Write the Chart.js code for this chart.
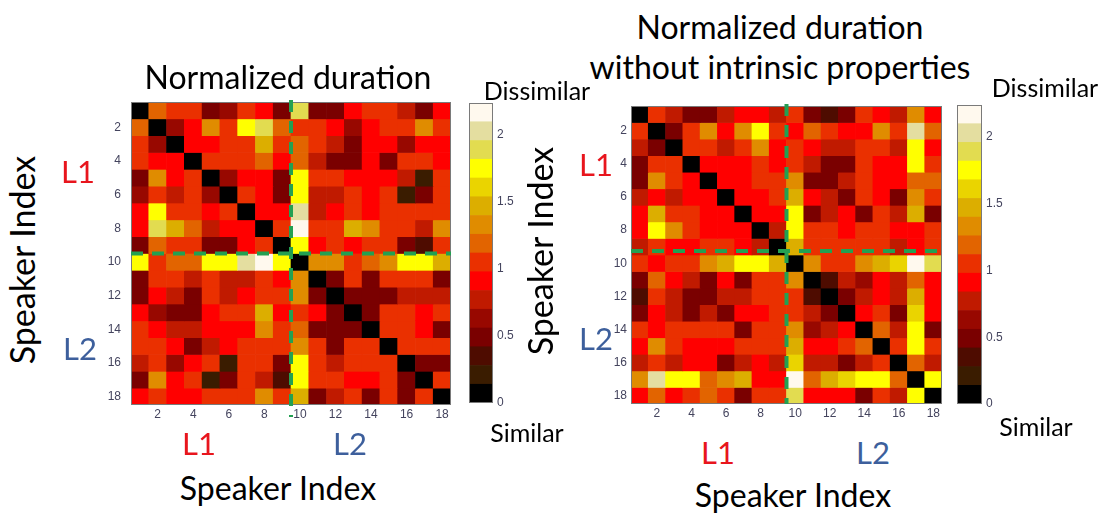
<!DOCTYPE html>
<html>
<head>
<meta charset="utf-8">
<script src="https://cdn.jsdelivr.net/npm/chart.js@4"></script>
<style>
body { margin: 0; background: #fff; font-family: Lato, 'Open Sans', sans-serif; }
#page { position: relative; width: 1103px; height: 514px; overflow: hidden; }
canvas, .lbl { position: absolute; }
.lbl { white-space: nowrap; line-height: 1; color: #000; transform: translate(-50%, -50%); }
.vert { transform: translate(-50%, -50%) rotate(-90deg); }
.red { color: #e8151d; }
.blue { color: #3d5f9c; }
</style>
</head>
<body>
<div id="page">
  <canvas id="heatA" width="356" height="335" style="left:95px;top:95px"></canvas>
  <canvas id="barA" width="52" height="315" style="left:469px;top:96px"></canvas>
  <canvas id="heatB" width="347" height="330" style="left:595px;top:99px"></canvas>
  <canvas id="barB" width="53" height="314" style="left:957px;top:98px"></canvas>

  <div class="lbl" style="left:288px;top:77px;font-size:32px">Normalized duration</div>
  <div class="lbl" style="left:780px;top:27px;font-size:32px">Normalized duration</div>
  <div class="lbl" style="left:780px;top:67px;font-size:32px">without intrinsic properties</div>

  <div class="lbl vert" style="left:22px;top:260px;font-size:34px">Speaker Index</div>
  <div class="lbl vert" style="left:540px;top:251px;font-size:34px">Speaker Index</div>
  <div class="lbl" style="left:278px;top:488px;font-size:32px">Speaker Index</div>
  <div class="lbl" style="left:793px;top:495px;font-size:32px">Speaker Index</div>

  <div class="lbl red" style="left:78px;top:171px;font-size:31px">L1</div>
  <div class="lbl blue" style="left:80px;top:348px;font-size:31px">L2</div>
  <div class="lbl red" style="left:199px;top:443px;font-size:31px">L1</div>
  <div class="lbl blue" style="left:350px;top:443px;font-size:31px">L2</div>
  <div class="lbl red" style="left:596px;top:164px;font-size:31px">L1</div>
  <div class="lbl blue" style="left:596px;top:338px;font-size:31px">L2</div>
  <div class="lbl red" style="left:718px;top:452px;font-size:31px">L1</div>
  <div class="lbl blue" style="left:873px;top:452px;font-size:31px">L2</div>

  <div class="lbl" style="left:537px;top:90px;font-size:25px">Dissimilar</div>
  <div class="lbl" style="left:527px;top:432px;font-size:25px">Similar</div>
  <div class="lbl" style="left:1045px;top:87px;font-size:25px">Dissimilar</div>
  <div class="lbl" style="left:1036px;top:426px;font-size:25px">Similar</div>
</div>
<script>
// Data
const speakers = [1, 2, 3, 4, 5, 6, 7, 8, 9, 10, 11, 12, 13, 14, 15, 16, 17, 18];
const indexTicks = [2, 4, 6, 8, 10, 12, 14, 16, 18];
const colorbarTicks = [0, 0.5, 1, 1.5, 2];
const colorbarMax = 2.24;
const groupSplit = 9.5; // L1 = speakers 1-9, L2 = 10-18

// Normalized duration distance (rows = speaker, cols = speaker)
const normDuration = [
  [0.05, 1.2, 1.05, 1.0, 0.5, 0.7, 1.0, 0.9, 0.5, 1.9, 0.5, 0.5, 0.9, 1.0, 1.0, 0.75, 0.5, 0.9],
  [1.2, 0.05, 0.7, 0.9, 1.35, 1.1, 1.7, 1.9, 1.2, 1.0, 1.0, 0.9, 0.7, 0.9, 1.1, 1.0, 1.35, 1.0],
  [1.05, 0.7, 0.05, 0.85, 0.9, 1.0, 1.1, 1.45, 1.0, 1.15, 1.0, 0.75, 0.5, 0.85, 0.9, 0.7, 0.9, 0.9],
  [1.0, 0.9, 0.85, 0.05, 1.0, 1.0, 1.1, 1.2, 0.95, 1.15, 0.75, 0.5, 0.5, 0.85, 0.5, 1.0, 1.0, 0.9],
  [0.5, 1.35, 0.9, 1.0, 0.05, 0.7, 0.9, 0.85, 0.5, 1.8, 1.0, 1.0, 0.9, 0.9, 0.95, 0.8, 0.25, 1.1],
  [0.6, 1.1, 0.75, 1.0, 0.7, 0.05, 1.0, 0.9, 0.55, 1.8, 0.8, 0.8, 1.0, 0.9, 1.0, 0.25, 0.5, 1.0],
  [0.9, 1.7, 1.1, 1.1, 0.9, 1.0, 0.05, 0.9, 0.9, 2.05, 0.8, 0.9, 1.1, 0.9, 1.0, 1.0, 1.0, 1.0],
  [0.9, 1.9, 1.45, 1.2, 0.8, 0.9, 0.9, 0.05, 1.0, 2.2, 1.1, 1.1, 1.45, 1.4, 1.1, 1.0, 0.8, 1.35],
  [0.5, 1.2, 1.0, 1.0, 0.5, 0.55, 0.9, 1.0, 0.05, 1.8, 0.9, 1.0, 0.9, 1.0, 1.0, 0.5, 0.3, 1.0],
  [1.8, 1.0, 1.2, 1.15, 1.8, 1.8, 2.05, 2.2, 1.8, 0.05, 1.35, 1.3, 1.0, 1.2, 1.35, 1.7, 1.8, 1.45],
  [0.5, 1.0, 1.0, 0.75, 1.0, 0.8, 0.8, 1.1, 0.9, 1.35, 0.05, 0.55, 1.0, 0.55, 1.0, 1.0, 1.0, 0.55],
  [0.5, 0.9, 0.75, 0.5, 1.0, 0.8, 0.9, 1.1, 1.0, 1.3, 0.55, 0.05, 0.55, 0.55, 0.55, 0.75, 0.8, 0.75],
  [0.9, 0.7, 0.5, 0.5, 0.9, 1.0, 1.1, 1.45, 0.9, 1.0, 0.85, 0.55, 0.05, 0.55, 1.0, 1.0, 0.9, 1.0],
  [1.0, 0.9, 0.8, 0.8, 0.9, 0.9, 0.9, 1.4, 1.0, 1.2, 0.55, 0.55, 0.55, 0.05, 1.0, 1.0, 0.9, 0.55],
  [1.0, 1.1, 0.9, 0.5, 0.8, 0.95, 1.0, 1.1, 1.0, 1.35, 1.0, 0.55, 1.0, 1.0, 0.05, 1.0, 1.0, 1.0],
  [0.75, 1.0, 0.7, 0.85, 1.0, 0.25, 1.0, 1.0, 0.5, 1.7, 1.0, 0.75, 1.0, 1.0, 1.0, 0.05, 0.55, 0.55],
  [0.5, 1.35, 0.9, 1.0, 0.25, 0.5, 1.0, 0.8, 0.3, 1.8, 1.0, 1.0, 0.9, 0.9, 1.0, 0.55, 0.05, 1.0],
  [0.9, 1.0, 0.9, 0.9, 1.1, 1.0, 1.0, 1.35, 1.0, 1.45, 0.55, 0.75, 1.0, 0.55, 1.0, 0.55, 1.0, 0.05]
];

// Normalized duration without intrinsic properties
const normDurationNoIntrinsic = [
  [0.05, 1.0, 0.8, 0.55, 0.5, 0.8, 0.9, 0.9, 0.75, 1.1, 0.5, 0.35, 0.5, 1.0, 0.9, 0.75, 1.4, 0.9],
  [1.0, 0.05, 0.5, 1.0, 1.35, 0.9, 1.4, 1.8, 1.1, 0.9, 1.2, 1.0, 0.9, 0.9, 1.35, 1.1, 2.05, 1.2],
  [0.8, 0.5, 0.05, 1.0, 1.0, 0.75, 1.1, 1.35, 0.9, 1.0, 0.9, 0.8, 0.75, 1.0, 1.1, 0.8, 1.8, 0.9],
  [0.55, 1.0, 1.0, 0.05, 0.85, 0.9, 0.9, 1.0, 0.9, 1.0, 0.8, 0.5, 0.5, 1.0, 0.85, 0.9, 1.8, 1.05],
  [0.5, 1.35, 1.0, 0.85, 0.05, 0.9, 0.9, 1.0, 1.0, 1.35, 0.5, 0.5, 0.8, 1.0, 0.9, 0.9, 1.2, 1.2],
  [0.8, 0.9, 0.75, 0.9, 0.9, 0.05, 0.9, 0.9, 1.0, 1.45, 0.9, 0.8, 0.5, 1.0, 0.9, 0.5, 1.35, 1.0],
  [0.9, 1.45, 1.1, 1.0, 0.9, 0.9, 0.05, 0.9, 0.95, 1.75, 0.5, 0.8, 0.9, 0.5, 1.1, 0.8, 1.5, 0.5],
  [0.9, 1.8, 1.35, 1.0, 0.95, 0.9, 0.9, 0.05, 0.8, 1.8, 1.0, 1.0, 0.9, 1.1, 1.0, 0.9, 0.9, 1.0],
  [0.75, 1.1, 0.9, 0.9, 1.0, 1.0, 0.95, 0.8, 0.05, 1.5, 1.0, 1.0, 1.0, 1.0, 1.05, 0.8, 0.9, 1.0],
  [1.1, 0.9, 1.0, 1.0, 1.35, 1.45, 1.75, 1.8, 1.5, 0.05, 1.35, 1.1, 1.1, 1.35, 1.45, 1.6, 2.2, 1.9],
  [0.5, 1.2, 0.9, 0.8, 0.5, 0.9, 0.5, 1.0, 1.0, 1.35, 0.05, 0.35, 0.8, 0.7, 0.9, 0.8, 1.25, 0.9],
  [0.35, 1.0, 0.8, 0.5, 0.5, 0.8, 0.8, 1.0, 1.0, 1.1, 0.35, 0.05, 0.5, 0.8, 0.9, 0.8, 1.45, 0.9],
  [0.5, 0.9, 0.75, 0.5, 0.8, 0.5, 0.9, 0.9, 1.0, 1.1, 0.8, 0.5, 0.05, 0.9, 1.0, 0.5, 1.6, 0.9],
  [1.0, 0.9, 1.0, 1.0, 1.0, 1.0, 0.5, 1.1, 1.0, 1.35, 0.7, 0.8, 0.9, 0.05, 1.2, 0.8, 1.75, 0.5],
  [0.9, 1.35, 1.1, 0.85, 0.9, 0.9, 1.1, 1.0, 1.05, 1.45, 0.9, 0.9, 1.0, 1.2, 0.05, 1.0, 1.8, 1.0],
  [0.75, 1.1, 0.8, 0.9, 0.9, 0.5, 0.8, 0.9, 0.8, 1.6, 0.8, 0.8, 0.5, 0.8, 1.0, 0.05, 1.25, 0.8],
  [1.4, 2.05, 1.8, 1.8, 1.2, 1.35, 1.5, 0.9, 0.9, 2.2, 1.25, 1.45, 1.6, 1.75, 1.8, 1.25, 0.05, 1.8],
  [0.9, 1.2, 0.9, 1.05, 1.2, 1.0, 0.5, 1.0, 1.0, 1.9, 0.9, 0.9, 0.9, 0.5, 1.0, 0.8, 1.8, 0.05]
];

// 16-step colour map, black (similar) -> cream (dissimilar)
const levelColors = [
  '#000000', '#3a1c00', '#4e0c00', '#7a0000', '#980800', '#c01a00', '#ff0000', '#ea3000',
  '#e26400', '#e08c00', '#dcae00', '#ead400', '#ffff00', '#e2dc50', '#e4dea0', '#fff9ee'
];
const levelStep = colorbarMax / levelColors.length;

const tickFont = { family: "'Liberation Sans', Arial, sans-serif", size: 12 };
const tickColor = '#44445e';

function levelColor(v) {
  return levelColors[Math.min(levelColors.length - 1, Math.floor(v / levelStep))];
}

// Dashed green lines separating L1 / L2 and a thin frame round the plot
const dividerPlugin = {
  id: 'divider',
  afterDatasetsDraw(chart, args, opts) {
    const { ctx, chartArea: a, scales } = chart;
    const px = scales.x.getPixelForValue(groupSplit);
    const py = scales.y.getPixelForValue(groupSplit) + (opts.shiftY || 0);
    ctx.save();
    ctx.strokeStyle = '#7a7a7a';
    ctx.lineWidth = 1;
    ctx.strokeRect(a.left + 0.5, a.top + 0.5, a.width - 1, a.height - 1);
    ctx.strokeStyle = '#23a052';
    ctx.lineWidth = 4;
    ctx.setLineDash([12, 9]);
    ctx.beginPath();
    ctx.moveTo(px, a.top - 2);
    ctx.lineTo(px, a.bottom + (opts.extend || 0));
    ctx.moveTo(a.left, py);
    ctx.lineTo(a.right, py);
    ctx.stroke();
    ctx.restore();
  }
};

const framePlugin = {
  id: 'frame',
  afterDatasetsDraw(chart) {
    const { ctx, chartArea: a } = chart;
    ctx.save();
    ctx.strokeStyle = '#7a7a7a';
    ctx.lineWidth = 1;
    ctx.strokeRect(a.left + 0.5, a.top + 0.5, a.width - 1, a.height - 1);
    ctx.restore();
  }
};

function fixWidth(w) {
  return axis => { axis.width = w; axis.paddingTop = 0; axis.paddingBottom = 0; };
}

function fixHeight(h) {
  return axis => { axis.height = h; axis.paddingLeft = 0; axis.paddingRight = 0; };
}

function renderHeatmap(id, matrix, extend, shiftY, yPad) {
  const datasets = matrix.map((row, r) => ({
    data: row.map((v, c) => ({ x: speakers[c], y: [speakers[r] - 0.5, speakers[r] + 0.5] })),
    backgroundColor: row.map(levelColor),
    grouped: false,
    barPercentage: 1,
    categoryPercentage: 1,
    borderWidth: 0
  }));

  new Chart(document.getElementById(id), {
    type: 'bar',
    data: { datasets: datasets },
    options: {
      responsive: false,
      animation: false,
      layout: { padding: { top: 7, right: 0 } },
      plugins: {
        legend: { display: false },
        tooltip: { enabled: false },
        divider: { extend: extend, shiftY: shiftY }
      },
      scales: {
        x: {
          type: 'linear',
          offset: false,
          min: 0.5,
          max: 18.5,
          grid: { display: false, drawTicks: false },
          border: { display: false },
          ticks: { font: tickFont, color: tickColor, padding: 2 },
          afterBuildTicks: axis => { axis.ticks = indexTicks.map(v => ({ value: v })); },
          afterFit: fixHeight(25)
        },
        y: {
          type: 'linear',
          reverse: true,
          min: 0.5,
          max: 18.5,
          grid: { display: false, drawTicks: false },
          border: { display: false },
          ticks: { font: tickFont, color: tickColor, padding: yPad },
          afterBuildTicks: axis => { axis.ticks = indexTicks.map(v => ({ value: v })); },
          afterFit: fixWidth(36)
        }
      }
    },
    plugins: [dividerPlugin]
  });
}

function renderColorbar(id) {
  const datasets = levelColors.map((c, k) => ({
    data: [[k * levelStep, (k + 1) * levelStep]],
    backgroundColor: c,
    grouped: false,
    barPercentage: 1,
    categoryPercentage: 1,
    borderWidth: 0
  }));

  new Chart(document.getElementById(id), {
    type: 'bar',
    data: { labels: [''], datasets: datasets },
    options: {
      responsive: false,
      animation: false,
      layout: { padding: { top: 7, bottom: 8 } },
      plugins: { legend: { display: false }, tooltip: { enabled: false } },
      scales: {
        x: { display: false },
        y: {
          position: 'right',
          min: 0,
          max: colorbarMax,
          grid: { display: false, drawTicks: false },
          border: { display: false },
          ticks: { font: tickFont, color: tickColor, padding: 4, callback: v => String(v) },
          afterBuildTicks: axis => { axis.ticks = colorbarTicks.map(v => ({ value: v })); },
          afterFit: fixWidth(28)
        }
      }
    },
    plugins: [framePlugin]
  });
}

renderHeatmap('heatA', normDuration, 12, 0, 10);
renderColorbar('barA');
renderHeatmap('heatB', normDurationNoIntrinsic, 0, -4, 4);
renderColorbar('barB');
</script>
</body>
</html>
